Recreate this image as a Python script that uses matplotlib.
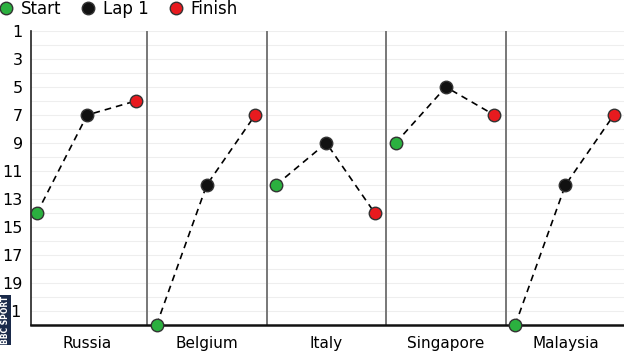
import matplotlib.pyplot as plt
from matplotlib.lines import Line2D

races = ["Russia", "Belgium", "Italy", "Singapore", "Malaysia"]
start = [14, 22, 12, 9, 22]
lap1 = [7, 12, 9, 5, 12]
finish = [6, 7, 14, 7, 7]
yticks = [1, 3, 5, 7, 9, 11, 13, 15, 17, 19, 21]

green = "#2bb03f"
black = "#111111"
red = "#e81a1f"
offs = [0.08, 0.5, 0.905]

fig = plt.figure(figsize=(6.24, 3.51), dpi=100)
ax = fig.add_axes([31/624, 1-325/351, 1-31/624, 294/351])

for i in range(len(races)):
    xs = [i + o for o in offs]
    ys = [start[i], lap1[i], finish[i]]
    ax.plot(xs, ys, color="k", ls=(0, (4, 3)), lw=1.2, zorder=3)
    for x, y, c in zip(xs, ys, [green, black, red]):
        ax.plot(x, y, 'o', ms=9, mfc=c, mec="#333333", mew=1, zorder=5, clip_on=False)
    if i > 0:
        ax.axvline(i, color="#777777", lw=1.4, zorder=2)

for y in range(1, 23):
    ax.axhline(y, color="#eeeeee", lw=0.8, zorder=1)

ax.set_xlim(0.03, 4.99)
ax.set_ylim(22, 1)
ax.set_yticks(yticks)
ax.set_xticks([i + 0.5 for i in range(len(races))])
ax.set_xticklabels(races, fontsize=11)
ax.tick_params(axis="y", length=0, labelsize=11.5, pad=6)
ax.tick_params(axis="x", length=0, pad=8)
for s in ["top", "right"]:
    ax.spines[s].set_visible(False)
ax.spines["left"].set_color("#222222")
ax.spines["left"].set_linewidth(1.2)
ax.spines["bottom"].set_color("#111111")
ax.spines["bottom"].set_linewidth(1.8)

handles = [Line2D([], [], ls="", marker="o", ms=9, mfc=c, mec="#333333", mew=1)
           for c in [green, black, red]]
fig.legend(handles, ["Start", "Lap 1", "Finish"], loc="upper left",
           bbox_to_anchor=(-0.03, 1.042), ncol=3, frameon=False, fontsize=12,
           handletextpad=0.3, columnspacing=1.0, handlelength=1.2)

fig.text(0.009, 0.088, "BBC SPORT", rotation=90, fontsize=5.5, fontweight="bold",
         color="white", ha="center", va="center",
         bbox=dict(facecolor="#1a2a4a", edgecolor="none", pad=0.6))

plt.savefig("out.png", dpi=100)
